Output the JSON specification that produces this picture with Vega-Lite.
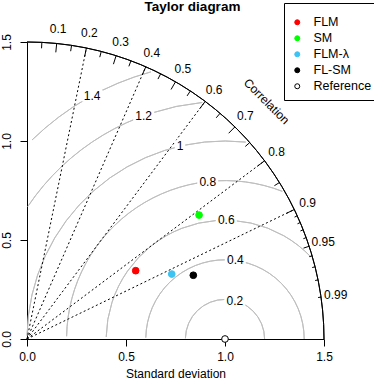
{
  "$schema": "https://vega.github.io/schema/vega-lite/v6.json",
  "autosize": {"type": "none"},
  "padding": {"left": 27, "top": 42, "right": 50, "bottom": 46},
  "width": 297,
  "height": 297,
  "background": "white",
  "config": {
    "view": {"stroke": null},
    "font": "Liberation Sans",
    "axis": {"grid": false, "domainColor": "black", "tickColor": "black", "labelColor": "black", "titleColor": "black", "labelFont": "Liberation Sans", "titleFont": "Liberation Sans", "labelFontSize": 12, "titleFontSize": 12, "titleFontWeight": "normal", "tickSize": 7, "labelFlush": false, "labelOverlap": false}
  },
  "title": {"text": "Taylor diagram", "fontSize": 13.5, "fontWeight": "bold", "font": "Liberation Sans", "color": "black", "anchor": "middle", "frame": "group", "dx": 17, "offset": -11},
  "datasets": {
    "gamma": [
      {"cx": 1, "cy": 0, "r": 0.2, "t1": -89, "t2": 90},
      {"cx": 1, "cy": 0, "r": 0.4, "t1": -89, "t2": 90},
      {"cx": 1, "cy": 0, "r": 0.6, "t1": -89, "t2": 46.5},
      {"cx": 1, "cy": 0, "r": 0.8, "t1": -89, "t2": 21.2},
      {"cx": 1, "cy": 0, "r": 1.0, "t1": -89, "t2": 6},
      {"cx": 1, "cy": 0, "r": 1.2, "t1": -56.1, "t2": -5.5},
      {"cx": 1, "cy": 0, "r": 1.4, "t1": -44.1, "t2": -15.5}
    ],
    "outer": [{"cx": 0, "cy": 0, "r": 1.5, "t1": 0, "t2": 90}],
    "corrlines": [
      {"x": 0, "y": 0, "x2": 0.3, "y2": 1.46969},
      {"x": 0, "y": 0, "x2": 0.6, "y2": 1.37477},
      {"x": 0, "y": 0, "x2": 0.9, "y2": 1.2},
      {"x": 0, "y": 0, "x2": 1.2, "y2": 0.9},
      {"x": 0, "y": 0, "x2": 1.35, "y2": 0.65384}
    ],
    "ticks": [
      {"x": 0.15, "y": 1.49249, "x2": 0.1455, "y2": 1.44771},
      {"x": 0.3, "y": 1.46969, "x2": 0.291, "y2": 1.4256},
      {"x": 0.45, "y": 1.43091, "x2": 0.4365, "y2": 1.38799},
      {"x": 0.6, "y": 1.37477, "x2": 0.582, "y2": 1.33354},
      {"x": 0.75, "y": 1.29904, "x2": 0.7275, "y2": 1.26007},
      {"x": 0.9, "y": 1.2, "x2": 0.873, "y2": 1.164},
      {"x": 1.05, "y": 1.07121, "x2": 1.0185, "y2": 1.03907},
      {"x": 1.2, "y": 0.9, "x2": 1.164, "y2": 0.873},
      {"x": 1.35, "y": 0.65384, "x2": 1.3095, "y2": 0.63422},
      {"x": 0.075, "y": 1.49812, "x2": 0.0735, "y2": 1.46816},
      {"x": 0.225, "y": 1.48303, "x2": 0.2205, "y2": 1.45337},
      {"x": 0.375, "y": 1.45237, "x2": 0.3675, "y2": 1.42333},
      {"x": 0.525, "y": 1.40513, "x2": 0.5145, "y2": 1.37702},
      {"x": 0.675, "y": 1.33954, "x2": 0.6615, "y2": 1.31275},
      {"x": 0.825, "y": 1.25274, "x2": 0.8085, "y2": 1.22769},
      {"x": 0.975, "y": 1.1399, "x2": 0.9555, "y2": 1.1171},
      {"x": 1.125, "y": 0.99216, "x2": 1.1025, "y2": 0.97232},
      {"x": 1.275, "y": 0.79017, "x2": 1.2495, "y2": 0.77437},
      {"x": 1.425, "y": 0.46837, "x2": 1.3965, "y2": 0.45901},
      {"x": 1.365, "y": 0.62192, "x2": 1.35135, "y2": 0.6157},
      {"x": 1.38, "y": 0.58788, "x2": 1.3662, "y2": 0.582},
      {"x": 1.395, "y": 0.55134, "x2": 1.38105, "y2": 0.54583},
      {"x": 1.41, "y": 0.51176, "x2": 1.3959, "y2": 0.50664},
      {"x": 1.44, "y": 0.42, "x2": 1.4256, "y2": 0.4158},
      {"x": 1.455, "y": 0.36465, "x2": 1.44045, "y2": 0.361},
      {"x": 1.47, "y": 0.2985, "x2": 1.4553, "y2": 0.29552},
      {"x": 1.485, "y": 0.21161, "x2": 1.47015, "y2": 0.20949}
    ],
    "corrlabels": [
      {"x": 0.1575, "y": 1.56711, "label": "0.1"},
      {"x": 0.315, "y": 1.54318, "label": "0.2"},
      {"x": 0.4725, "y": 1.50246, "label": "0.3"},
      {"x": 0.63, "y": 1.44352, "label": "0.4"},
      {"x": 0.7875, "y": 1.36399, "label": "0.5"},
      {"x": 0.945, "y": 1.26, "label": "0.6"},
      {"x": 1.1025, "y": 1.12477, "label": "0.7"},
      {"x": 1.26, "y": 0.945, "label": "0.8"},
      {"x": 1.4175, "y": 0.68653, "label": "0.9"},
      {"x": 1.49625, "y": 0.49179, "label": "0.95"},
      {"x": 1.55925, "y": 0.22219, "label": "0.99"}
    ],
    "gammalabels": [
      {"x": 1.0496, "y": 0.1937, "label": "0.2"},
      {"x": 1.052, "y": 0.397, "label": "0.4"},
      {"x": 1.0065, "y": 0.6, "label": "0.6"},
      {"x": 0.9128, "y": 0.795, "label": "0.8"},
      {"x": 0.7728, "y": 0.9738, "label": "1"},
      {"x": 0.5892, "y": 1.1275, "label": "1.2"},
      {"x": 0.3287, "y": 1.2286, "label": "1.4"}
    ],
    "corrtitle": [{"x": 1.21, "y": 1.2, "label": "Correlation"}],
    "models": [
      {"model": "FLM", "x": 0.549, "y": 0.345},
      {"model": "SM", "x": 0.869, "y": 0.626},
      {"model": "FLM-λ", "x": 0.731, "y": 0.328},
      {"model": "FL-SM", "x": 0.84, "y": 0.322},
      {"model": "Reference", "x": 1.0, "y": 0.0}
    ]
  },
  "layer": [
    {
      "data": {"name": "gamma"},
      "mark": {"type": "arc", "filled": false, "stroke": "#BEBEBE", "strokeWidth": 1},
      "encoding": {
        "x": {"field": "cx", "type": "quantitative", "scale": {"domain": [0, 1.5], "nice": false, "zero": false}, "axis": {"values": [0, 0.5, 1, 1.5], "format": ".1f", "title": "Standard deviation", "labelPadding": 5, "titlePadding": 6}},
        "y": {"field": "cy", "type": "quantitative", "scale": {"domain": [0, 1.5], "nice": false, "zero": false}, "axis": {"values": [0, 0.5, 1, 1.5], "format": ".1f", "title": null, "labelAngle": -90, "labelAlign": "center", "labelBaseline": "bottom", "labelPadding": 7}},
        "radius": {"field": "r", "type": "quantitative", "scale": {"type": "linear", "domain": [0, 1.5], "range": [0, 297], "zero": true}},
        "radius2": {"field": "r"},
        "theta": {"field": "t1", "type": "quantitative", "stack": null, "scale": {"type": "linear", "domain": [0, 360], "range": [0, 6.283185307179586]}},
        "theta2": {"field": "t2"}
      }
    },
    {
      "data": {"name": "corrlines"},
      "mark": {"type": "rule", "color": "black", "strokeWidth": 1, "strokeDash": [2, 2.5]},
      "encoding": {
        "x": {"field": "x", "type": "quantitative"},
        "y": {"field": "y", "type": "quantitative"},
        "x2": {"field": "x2"},
        "y2": {"field": "y2"}
      }
    },
    {
      "data": {"name": "gammalabels"},
      "transform": [{"filter": "datum.label != '1'"}],
      "mark": {"type": "point", "shape": "M-1,-0.55H1V0.55H-1Z", "size": 441, "filled": true, "color": "white", "opacity": 1, "strokeWidth": 0},
      "encoding": {
        "x": {"field": "x", "type": "quantitative"},
        "y": {"field": "y", "type": "quantitative"}
      }
    },
    {
      "data": {"name": "gammalabels"},
      "transform": [{"filter": "datum.label == '1'"}],
      "mark": {"type": "point", "shape": "M-1,-1.15H1V1.15H-1Z", "size": 110, "filled": true, "color": "white", "opacity": 1, "strokeWidth": 0},
      "encoding": {
        "x": {"field": "x", "type": "quantitative"},
        "y": {"field": "y", "type": "quantitative"}
      }
    },
    {
      "data": {"name": "gammalabels"},
      "mark": {"type": "text", "fontSize": 12, "color": "black", "align": "center", "baseline": "middle", "font": "Liberation Sans"},
      "encoding": {
        "x": {"field": "x", "type": "quantitative"},
        "y": {"field": "y", "type": "quantitative"},
        "text": {"field": "label"}
      }
    },
    {
      "data": {"name": "outer"},
      "mark": {"type": "arc", "filled": false, "stroke": "black", "strokeWidth": 1},
      "encoding": {
        "x": {"field": "cx", "type": "quantitative"},
        "y": {"field": "cy", "type": "quantitative"},
        "radius": {"field": "r", "type": "quantitative"},
        "radius2": {"field": "r"},
        "theta": {"field": "t1", "type": "quantitative", "stack": null},
        "theta2": {"field": "t2"}
      }
    },
    {
      "data": {"name": "ticks"},
      "mark": {"type": "rule", "color": "black", "strokeWidth": 1},
      "encoding": {
        "x": {"field": "x", "type": "quantitative"},
        "y": {"field": "y", "type": "quantitative"},
        "x2": {"field": "x2"},
        "y2": {"field": "y2"}
      }
    },
    {
      "data": {"name": "corrlabels"},
      "mark": {"type": "text", "fontSize": 12, "color": "black", "align": "center", "baseline": "middle", "font": "Liberation Sans"},
      "encoding": {
        "x": {"field": "x", "type": "quantitative"},
        "y": {"field": "y", "type": "quantitative"},
        "text": {"field": "label"}
      }
    },
    {
      "data": {"name": "corrtitle"},
      "mark": {"type": "text", "fontSize": 12, "color": "black", "align": "center", "baseline": "middle", "angle": 45, "font": "Liberation Sans"},
      "encoding": {
        "x": {"field": "x", "type": "quantitative"},
        "y": {"field": "y", "type": "quantitative"},
        "text": {"field": "label"}
      }
    },
    {
      "data": {"name": "models"},
      "mark": {"type": "point", "shape": "circle", "size": 45, "strokeWidth": 1, "opacity": 1, "fillOpacity": 1},
      "encoding": {
        "x": {"field": "x", "type": "quantitative"},
        "y": {"field": "y", "type": "quantitative"},
        "fill": {"field": "model", "type": "nominal", "scale": {"domain": ["FLM", "SM", "FLM-λ", "FL-SM", "Reference"], "range": ["#FF0000", "#00FF00", "#3DC3F2", "#000000", "#FFFFFF"]}, "legend": {"title": " ", "titleFontSize": 4, "titlePadding": 2, "orient": "none", "legendX": 257, "legendY": -39, "strokeColor": "black", "fillColor": "white", "padding": 7, "labelFontSize": 12.5, "labelFont": "Liberation Sans", "labelColor": "black", "symbolSize": 25, "symbolStrokeWidth": 1, "rowPadding": 3, "labelOffset": 10, "symbolType": "circle", "cornerRadius": 0}},
        "stroke": {"field": "model", "type": "nominal", "scale": {"domain": ["FLM", "SM", "FLM-λ", "FL-SM", "Reference"], "range": ["#FF0000", "#00FF00", "#3DC3F2", "#000000", "#000000"]}, "legend": {"title": " ", "titleFontSize": 4, "titlePadding": 2, "orient": "none", "legendX": 257, "legendY": -39, "strokeColor": "black", "fillColor": "white", "padding": 7, "labelFontSize": 12.5, "labelFont": "Liberation Sans", "labelColor": "black", "symbolSize": 25, "symbolStrokeWidth": 1, "rowPadding": 3, "labelOffset": 10, "symbolType": "circle", "cornerRadius": 0}}
      }
    }
  ]
}
